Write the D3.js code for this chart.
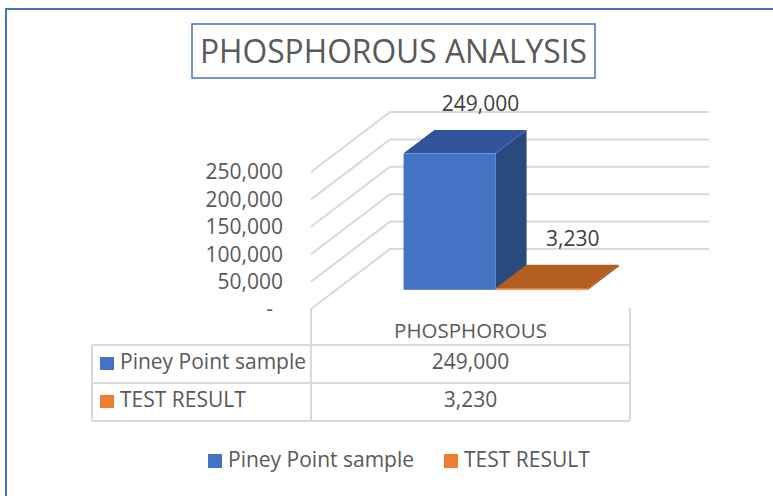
<!DOCTYPE html>
<html>
<head>
<meta charset="utf-8">
<script src="https://cdn.jsdelivr.net/npm/d3@7"></script>
<style>
  html, body { margin: 0; padding: 0; background: #fff; }
  svg text { font-family: "Open Sans", "Noto Sans", sans-serif; }
</style>
</head>
<body>
<div id="chart"></div>
<script>
// chart data
const title = 'PHOSPHOROUS ANALYSIS';
const categories = ['PHOSPHOROUS'];
const seriesNames = ['Piney Point sample', 'TEST RESULT'];
const seriesValues = [249000, 3230];
const yTicks = [0, 50000, 100000, 150000, 200000, 250000];

const width = 773, height = 496;
const blue = '#4472C4', orange = '#ED7D31';
const faceColors = {
    'Piney Point sample': { front: '#4472C4', top: '#30539A', side: '#294A7F' },
    'TEST RESULT': { front: '#ED7D31', top: '#B45D21', side: '#9E5119' }
};
const gridColor = '#d9d9d9', textColor = '#595959';

// 3d depth of the plot area
const DX = 79, DY = 60;
const zFront = 0.32, zBack = 0.71;

const svg = d3.select('#chart').append('svg')
    .attr('width', width)
    .attr('height', height);

// outer chart border (runs off the picture on the right / bottom)
svg.append('rect')
    .attr('x', 6).attr('y', 9)
    .attr('width', 900).attr('height', 700)
    .attr('fill', 'none')
    .attr('stroke', blue)
    .attr('stroke-width', 2);

// title in a box
svg.append('rect')
    .attr('x', 192).attr('y', 24)
    .attr('width', 403).attr('height', 54)
    .attr('fill', '#fff')
    .attr('stroke', blue)
    .attr('stroke-width', 1.5);

svg.append('text')
    .attr('x', 393.5).attr('y', 63)
    .attr('text-anchor', 'middle')
    .style('font-size', '32px')
    .attr('fill', textColor)
    .attr('textLength', 387)
    .attr('lengthAdjust', 'spacingAndGlyphs')
    .text(title);

const yScale = d3.scaleLinear()
    .domain([0, 250000])
    .range([309, 172]);

const xScale = d3.scaleBand()
    .domain(categories)
    .range([311, 630]);

const xSeries = d3.scaleBand()
    .domain(seriesNames)
    .range([0, xScale.bandwidth()])
    .paddingOuter(0.73);

const left = xScale.range()[0], right = xScale.range()[1];

// gridlines: side wall diagonal + back wall horizontal
const grid = svg.append('g').attr('class', 'grid')
    .attr('fill', 'none')
    .attr('stroke', gridColor)
    .attr('stroke-width', 2);

grid.selectAll('path')
    .data(yTicks)
    .join('path')
    .attr('d', d => {
        const y = yScale(d);
        return `M${left},${y}L${left + DX},${y - DY}L${right + DX},${y - DY}`;
    });

// y axis labels
const yFormat = d3.format(',');
svg.append('g')
    .selectAll('text')
    .data(yTicks)
    .join('text')
    .attr('x', d => d === 0 ? 273 : 283)
    .attr('y', d => yScale(d))
    .attr('dy', '0.35em')
    .attr('text-anchor', 'end')
    .style('font-size', '21px')
    .attr('fill', textColor)
    .text(d => d === 0 ? '-' : yFormat(d));

// 3d bars
const bars = seriesNames.map((name, i) => ({ name, value: seriesValues[i], cat: categories[0] }));

const barG = svg.append('g').attr('class', 'bars');

bars.forEach(d => {
    const x0 = xScale(d.cat) + xSeries(d.name);
    const x1 = x0 + xSeries.bandwidth();
    const y0 = yScale(0), y1 = yScale(d.value);
    const c = faceColors[d.name];
    const fx0 = x0 + zFront * DX, fx1 = x1 + zFront * DX;
    const bx0 = x0 + zBack * DX, bx1 = x1 + zBack * DX;
    const fy0 = y0 - zFront * DY, fy1 = y1 - zFront * DY;
    const by0 = y0 - zBack * DY, by1 = y1 - zBack * DY;

    const g = barG.append('g');
    // right side
    g.append('path')
        .attr('d', `M${fx1},${fy0}L${bx1},${by0}L${bx1},${by1}L${fx1},${fy1}Z`)
        .attr('fill', c.side);
    // top
    g.append('path')
        .attr('d', `M${fx0},${fy1}L${fx1},${fy1}L${bx1},${by1}L${bx0},${by1}Z`)
        .attr('fill', c.top);
    // front
    g.append('rect')
        .attr('x', fx0).attr('y', fy1)
        .attr('width', fx1 - fx0)
        .attr('height', Math.max(fy0 - fy1, 1.5))
        .attr('fill', c.front);

    // data label
    svg.append('text')
        .attr('x', (bx0 + bx1) / 2)
        .attr('y', by1 - 19)
        .attr('text-anchor', 'middle')
        .style('font-size', '21px')
        .attr('fill', '#404040')
        .text(yFormat(d.value));
});

// data table below the plot
const tableLeft = 92, colX = left, tableRight = right;
const headerTop = 308, rowTop = 345, rowH = 38;
const tableBottom = rowTop + rowH * seriesNames.length;

const table = svg.append('g').attr('class', 'table')
    .attr('stroke', gridColor)
    .attr('stroke-width', 2);

table.append('line')
    .attr('x1', colX).attr('x2', colX)
    .attr('y1', headerTop).attr('y2', tableBottom);
table.append('line')
    .attr('x1', tableRight).attr('x2', tableRight)
    .attr('y1', headerTop).attr('y2', tableBottom);
table.append('line')
    .attr('x1', tableLeft).attr('x2', tableLeft)
    .attr('y1', rowTop).attr('y2', tableBottom);
table.selectAll('line.h')
    .data(d3.range(seriesNames.length + 1))
    .join('line')
    .attr('class', 'h')
    .attr('x1', tableLeft).attr('x2', tableRight)
    .attr('y1', i => rowTop + i * rowH)
    .attr('y2', i => rowTop + i * rowH);

svg.append('text')
    .attr('x', xScale(categories[0]) + xScale.bandwidth() / 2)
    .attr('y', rowTop - 7)
    .attr('text-anchor', 'middle')
    .style('font-size', '20.5px')
    .attr('fill', textColor)
    .text(categories[0]);

const rows = svg.append('g').selectAll('g')
    .data(bars)
    .join('g')
    .attr('transform', (d, i) => `translate(0,${rowTop + i * rowH})`);

rows.append('rect')
    .attr('x', 100).attr('y', 12)
    .attr('width', 14).attr('height', 13)
    .attr('fill', (d, i) => i === 0 ? blue : orange);

rows.append('text')
    .attr('x', 120).attr('y', 24)
    .style('font-size', '21px')
    .attr('fill', textColor)
    .text(d => d.name);

rows.append('text')
    .attr('x', xScale(categories[0]) + xScale.bandwidth() / 2)
    .attr('y', 24)
    .attr('text-anchor', 'middle')
    .style('font-size', '21px')
    .attr('fill', textColor)
    .text(d => yFormat(d.value));

// legend
const legendX = [208, 444];
const legend = svg.append('g').selectAll('g')
    .data(bars)
    .join('g')
    .attr('transform', (d, i) => `translate(${legendX[i]},454)`);

legend.append('rect')
    .attr('width', 14).attr('height', 14)
    .attr('fill', (d, i) => i === 0 ? blue : orange);

legend.append('text')
    .attr('x', 20).attr('y', 13)
    .style('font-size', '21px')
    .attr('fill', textColor)
    .text(d => d.name);
</script>
</body>
</html>
